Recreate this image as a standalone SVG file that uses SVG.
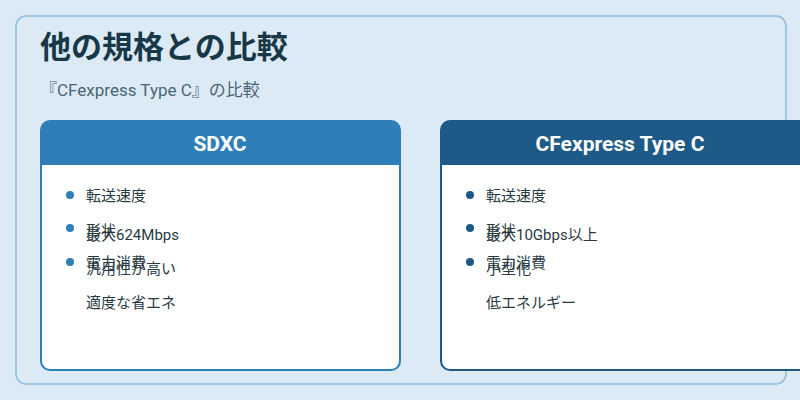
<svg xmlns="http://www.w3.org/2000/svg" width="800" height="400" viewBox="0 0 800 400">
<style>
text{font-family:Roboto,"Noto Sans CJK JP",sans-serif}
.h{fill:#fff;font-size:21px;font-weight:bold;text-anchor:middle}
.t{fill:#2a3a44;font-size:15px}
</style>
<rect width="800" height="400" fill="#dbeaf5"/>
<rect x="16" y="16" width="770" height="368" rx="10" fill="#dbeaf5" stroke="#8cbbdc" stroke-width="1.5"/>
<text x="40" y="58" font-size="31" font-weight="bold" fill="#183848">他の規格との比較</text>
<text x="40" y="96" font-size="17" fill="#4a6676">『CFexpress Type C』の比較</text>
<g id="sdxc">
<rect x="41" y="121" width="359" height="249" rx="9" fill="#fff" stroke="#2e7fb8" stroke-width="2"/>
<path d="M41 165V130a9 9 0 0 1 9-9h341a9 9 0 0 1 9 9v35z" fill="#2e7fb8"/>
<text class="h" x="220" y="151">SDXC</text>
<g fill="#2e7fb8"><circle cx="70" cy="195" r="4"/><circle cx="70" cy="228" r="4"/><circle cx="70" cy="262" r="4"/></g>
<text class="t" x="86" y="201">転送速度</text>
<text class="t" x="86" y="240">最大624Mbps</text>
<text class="t" x="86" y="236">形状</text>
<text class="t" x="86" y="274">汎用性が高い</text>
<text class="t" x="86" y="268">電力消費</text>
<text class="t" x="86" y="308">適度な省エネ</text>
</g>
<g id="cfexpress">
<rect x="441" y="121" width="370" height="249" rx="9" fill="#fff" stroke="#1d5a87" stroke-width="2"/>
<path d="M441 165V130a9 9 0 0 1 9-9h352a9 9 0 0 1 9 9v35z" fill="#1d5a87"/>
<text class="h" x="620" y="151">CFexpress Type C</text>
<g fill="#1d5a87"><circle cx="470" cy="195" r="4"/><circle cx="470" cy="228" r="4"/><circle cx="470" cy="262" r="4"/></g>
<text class="t" x="486" y="201">転送速度</text>
<text class="t" x="486" y="240">最大10Gbps以上</text>
<text class="t" x="486" y="236">形状</text>
<text class="t" x="486" y="274">小型化</text>
<text class="t" x="486" y="268">電力消費</text>
<text class="t" x="486" y="308">低エネルギー</text>
</g>
</svg>
